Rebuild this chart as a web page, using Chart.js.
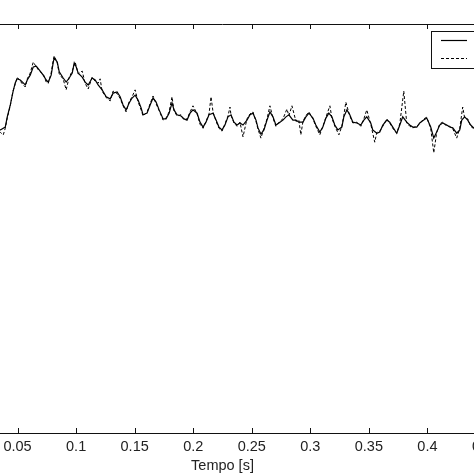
<!DOCTYPE html>
<html>
<head>
<meta charset="utf-8">
<script src="https://cdn.jsdelivr.net/npm/chart.js@4/dist/chart.umd.min.js"></script>
<style>
  html, body { margin: 0; padding: 0; background: #fff; overflow: hidden; width: 474px; height: 474px; }
  #wrap { position: absolute; left: -100px; top: 0; width: 620px; height: 474px; }
</style>
</head>
<body>
<div id="wrap"><canvas id="c" width="620" height="474"></canvas></div>
<script>
// Time axis [s]
const xTickValues = [0, 0.05, 0.1, 0.15, 0.2, 0.25, 0.3, 0.35, 0.4, 0.45];
const seriesLabels = ['Misurato', 'Simulato'];

// Series 1 (solid)
const solidTime = [0.030,0.0353,0.0395,0.0412,0.0438,0.0461,0.0480,0.0497,0.0523,0.0549,0.0566,0.0583,0.0608,0.0634,0.0660,0.0685,0.0719,0.0745,0.0762,0.0787,0.0804,0.0813,0.0839,0.0856,0.0890,0.0915,0.0941,0.0967,0.0984,0.1001,0.1018,0.1052,0.1077,0.1103,0.1137,0.1163,0.1188,0.1222,0.1257,0.1291,0.1316,0.1350,0.1376,0.1401,0.1427,0.1453,0.1478,0.1504,0.1529,0.1555,0.1572,0.1606,0.1632,0.1657,0.1683,0.1709,0.1743,0.1768,0.1794,0.1819,0.1836,0.1862,0.1896,0.1922,0.1947,0.1973,0.1998,0.2033,0.2058,0.2084,0.2109,0.2135,0.2169,0.2195,0.2220,0.2246,0.2271,0.2297,0.2323,0.2348,0.2374,0.2399,0.2425,0.2459,0.2485,0.2510,0.2536,0.2553,0.2578,0.2604,0.2630,0.2655,0.2681,0.2706,0.2732,0.2766,0.2792,0.2817,0.2851,0.2877,0.2902,0.2937,0.2962,0.2988,0.3022,0.3047,0.3081,0.3107,0.3133,0.3158,0.3184,0.3209,0.3235,0.3269,0.3286,0.3312,0.3337,0.3363,0.3397,0.3431,0.3457,0.3482,0.3516,0.3533,0.3568,0.3593,0.3619,0.3653,0.3678,0.3704,0.3738,0.3764,0.3789,0.3823,0.3849,0.3875,0.3909,0.3934,0.3968,0.3994,0.4028,0.4054,0.4079,0.4105,0.4130,0.4165,0.4190,0.4216,0.4250,0.4276,0.4293,0.4318,0.4344,0.4369,0.4395,0.4446,0.4497];
const solidValues = [0.741,0.741,0.748,0.773,0.802,0.834,0.856,0.866,0.863,0.856,0.851,0.863,0.875,0.895,0.897,0.888,0.875,0.863,0.858,0.875,0.905,0.917,0.907,0.883,0.868,0.858,0.868,0.880,0.905,0.895,0.880,0.870,0.858,0.851,0.868,0.863,0.851,0.839,0.822,0.817,0.831,0.834,0.822,0.802,0.790,0.807,0.819,0.826,0.814,0.795,0.778,0.782,0.802,0.819,0.809,0.790,0.768,0.768,0.782,0.807,0.790,0.778,0.775,0.768,0.765,0.782,0.790,0.782,0.760,0.748,0.760,0.778,0.782,0.765,0.748,0.741,0.753,0.773,0.778,0.760,0.753,0.758,0.753,0.765,0.778,0.782,0.765,0.746,0.731,0.741,0.765,0.785,0.773,0.753,0.758,0.765,0.773,0.778,0.765,0.765,0.760,0.760,0.773,0.782,0.770,0.753,0.736,0.748,0.770,0.782,0.773,0.753,0.741,0.748,0.773,0.790,0.778,0.760,0.758,0.753,0.765,0.773,0.758,0.741,0.733,0.736,0.753,0.765,0.760,0.748,0.733,0.753,0.773,0.760,0.753,0.748,0.748,0.758,0.765,0.770,0.748,0.721,0.736,0.753,0.758,0.753,0.748,0.746,0.733,0.741,0.765,0.773,0.765,0.753,0.746,0.750,0.756];

// Series 2 (dashed)
const dashedTime = [0.030,0.0353,0.0378,0.0395,0.0412,0.0438,0.0461,0.0480,0.0497,0.0523,0.0549,0.0566,0.0583,0.0608,0.0634,0.0660,0.0685,0.0719,0.0745,0.0762,0.0787,0.0804,0.0813,0.0839,0.0856,0.0890,0.0915,0.0941,0.0967,0.0992,0.1018,0.1052,0.1077,0.1103,0.1137,0.1163,0.1188,0.1205,0.1222,0.1257,0.1291,0.1316,0.1350,0.1376,0.1401,0.1427,0.1453,0.1478,0.1504,0.1529,0.1555,0.1572,0.1606,0.1632,0.1657,0.1683,0.1709,0.1743,0.1768,0.1794,0.1819,0.1836,0.1862,0.1896,0.1922,0.1947,0.1973,0.1998,0.2033,0.2058,0.2084,0.2109,0.2135,0.2152,0.2169,0.2195,0.2220,0.2246,0.2271,0.2297,0.2314,0.2323,0.2348,0.2374,0.2399,0.2425,0.2459,0.2485,0.2510,0.2536,0.2553,0.2578,0.2604,0.2630,0.2655,0.2681,0.2706,0.2732,0.2766,0.2800,0.2817,0.2843,0.2877,0.2902,0.2919,0.2937,0.2962,0.2988,0.3022,0.3047,0.3081,0.3107,0.3133,0.3167,0.3184,0.3209,0.3244,0.3269,0.3286,0.3303,0.3337,0.3363,0.3397,0.3431,0.3457,0.3482,0.3516,0.3550,0.3568,0.3593,0.3619,0.3653,0.3678,0.3704,0.3738,0.3764,0.3798,0.3823,0.3849,0.3875,0.3909,0.3934,0.3968,0.3994,0.4028,0.4054,0.4079,0.4105,0.4130,0.4165,0.4190,0.4216,0.4250,0.4276,0.4301,0.4318,0.4344,0.4369,0.4395,0.4446,0.4497];
const dashedValues = [0.735,0.735,0.729,0.745,0.770,0.800,0.836,0.853,0.870,0.860,0.851,0.846,0.866,0.880,0.907,0.895,0.885,0.878,0.858,0.855,0.880,0.910,0.922,0.905,0.878,0.865,0.839,0.870,0.885,0.907,0.878,0.885,0.855,0.841,0.870,0.860,0.855,0.866,0.836,0.820,0.812,0.836,0.830,0.818,0.800,0.785,0.810,0.822,0.839,0.810,0.790,0.775,0.785,0.805,0.824,0.805,0.788,0.765,0.770,0.785,0.822,0.788,0.775,0.778,0.765,0.768,0.785,0.800,0.780,0.755,0.745,0.762,0.780,0.822,0.785,0.762,0.745,0.738,0.756,0.775,0.797,0.776,0.758,0.750,0.760,0.724,0.768,0.780,0.785,0.762,0.743,0.721,0.745,0.768,0.800,0.770,0.750,0.760,0.768,0.792,0.776,0.800,0.762,0.765,0.729,0.762,0.776,0.785,0.768,0.750,0.729,0.750,0.772,0.800,0.770,0.750,0.729,0.750,0.776,0.809,0.775,0.758,0.760,0.750,0.768,0.790,0.755,0.711,0.735,0.738,0.750,0.768,0.758,0.745,0.733,0.756,0.836,0.758,0.750,0.746,0.750,0.756,0.768,0.772,0.745,0.685,0.735,0.756,0.760,0.750,0.750,0.744,0.721,0.745,0.797,0.770,0.768,0.750,0.744,0.752,0.754];

const toPoints = (ts, vs) => ts.map((t, i) => ({ x: t, y: vs[i] }));
const FONT = "'Liberation Sans', Arial, Helvetica, sans-serif";
const AXIS_COLOR = '#111';

const frameTicks = {
  id: 'frameTicks',
  afterDraw(chart) {
    const { ctx, chartArea: a, scales: { x } } = chart;
    ctx.save();
    ctx.strokeStyle = AXIS_COLOR;
    ctx.lineWidth = 1;
    ctx.beginPath();
    ctx.moveTo(a.left, a.top + 0.5); ctx.lineTo(a.right, a.top + 0.5);
    ctx.moveTo(a.right - 0.5, a.top); ctx.lineTo(a.right - 0.5, a.bottom);
    ctx.moveTo(a.left + 0.5, a.top); ctx.lineTo(a.left + 0.5, a.bottom);
    x.ticks.forEach(tk => {
      const px = Math.round(x.getPixelForValue(tk.value)) + 0.5;
      ctx.moveTo(px, a.bottom); ctx.lineTo(px, a.bottom - 5);
      ctx.moveTo(px, a.top); ctx.lineTo(px, a.top + 5);
    });
    ctx.stroke();
    // legend box (inside plot, top-right)
    const bx = a.right - 55, by = a.top + 7, bw = 200, bh = 37;
    ctx.fillStyle = '#fff';
    ctx.fillRect(bx, by, bw, bh);
    ctx.strokeRect(bx + 0.5, by + 0.5, bw, bh);
    chart.data.datasets.forEach((ds, i) => {
      const ly = Math.round(by + 9 + i * 18) + 0.5;
      ctx.beginPath();
      ctx.setLineDash(ds.borderDash || []);
      ctx.lineWidth = ds.borderWidth;
      ctx.strokeStyle = ds.borderColor;
      ctx.moveTo(bx + 10, ly); ctx.lineTo(bx + 36, ly);
      ctx.stroke();
      ctx.setLineDash([]);
      ctx.fillStyle = '#222';
      ctx.font = '14px ' + FONT;
      ctx.textBaseline = 'middle';
      ctx.fillText(ds.label, bx + 44, ly);
    });
    ctx.restore();
  }
};

new Chart(document.getElementById('c'), {
  type: 'line',
  data: {
    datasets: [
      { label: seriesLabels[0], data: toPoints(solidTime, solidValues), borderColor: '#000', borderWidth: 1.2, pointRadius: 0, tension: 0, fill: false },
      { label: seriesLabels[1], data: toPoints(dashedTime, dashedValues), borderColor: '#000', borderWidth: 1, borderDash: [3, 2], pointRadius: 0, tension: 0, fill: false }
    ]
  },
  options: {
    responsive: false,
    animation: false,
    devicePixelRatio: 1,
    layout: { padding: { left: 59, right: 34, top: 24, bottom: 0 } },
    plugins: { legend: { display: false }, tooltip: { enabled: false } },
    scales: {
      x: {
        type: 'linear', position: 'bottom', min: 0, max: 0.45,
        afterBuildTicks: s => { s.ticks = xTickValues.map(v => ({ value: v })); },
        afterFit: s => { s.height = 41; },
        grid: { drawOnChartArea: false, drawTicks: false },
        border: { display: true, color: AXIS_COLOR, width: 1 },
        ticks: { autoSkip: false, maxRotation: 0, padding: 5, color: '#222', font: { family: FONT, size: 14.5 }, callback: v => String(+v.toFixed(2)) },
        title: { display: true, text: 'Tempo [s]', color: '#222', font: { family: FONT, size: 14.5, lineHeight: 1 }, padding: { top: 0, bottom: 1 } }
      },
      y: { display: false, min: 0, max: 1 }
    }
  },
  plugins: [frameTicks]
});
</script>
</body>
</html>
